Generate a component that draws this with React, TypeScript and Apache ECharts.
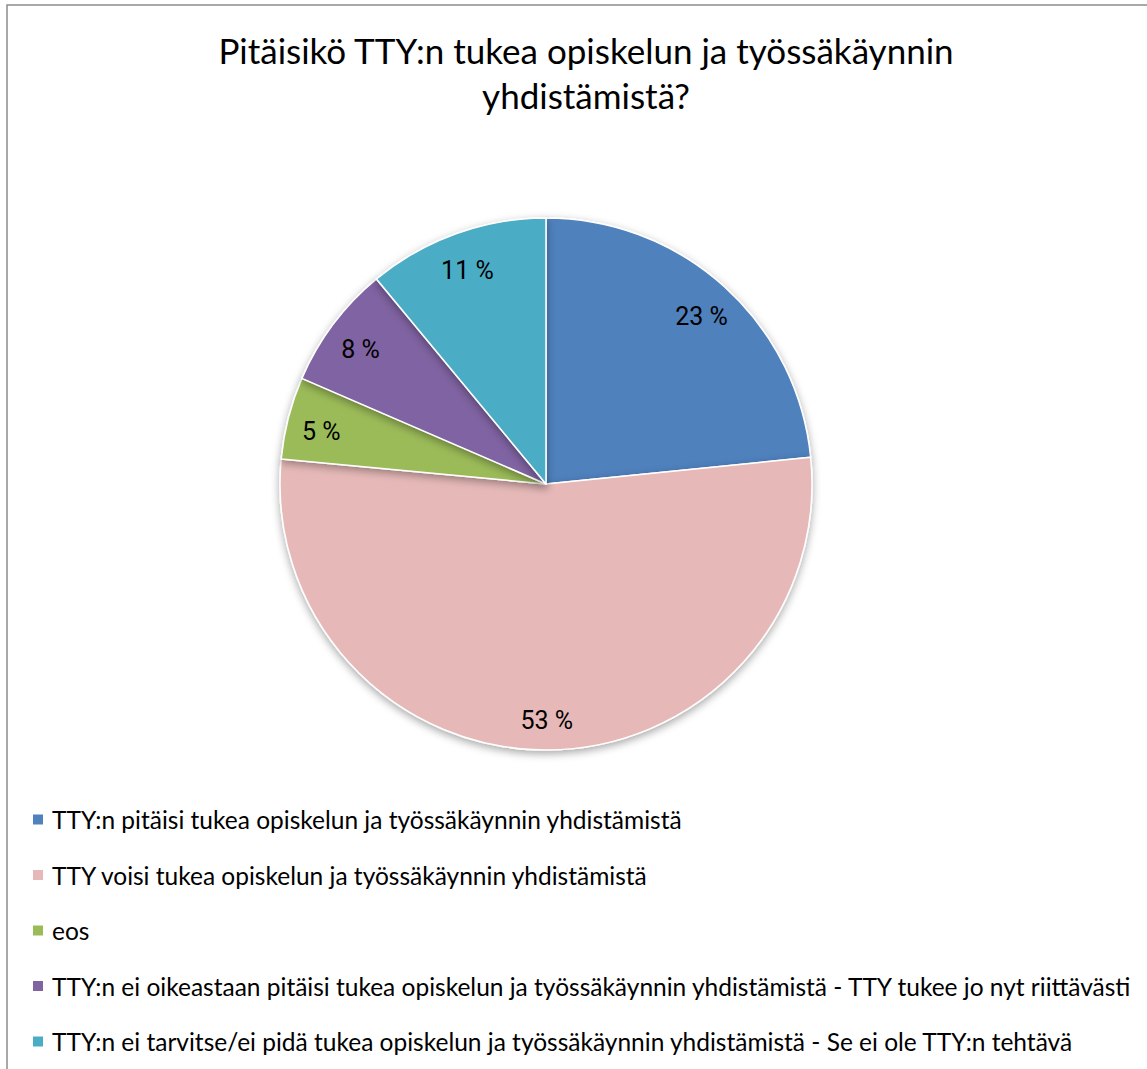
import React, { useEffect, useRef } from "react";
import * as echarts from "echarts";

const titleLines = ["Pitäisikö TTY:n tukea opiskelun ja työssäkäynnin", "yhdistämistä?"];
const categories = [
  "TTY:n pitäisi tukea opiskelun ja työssäkäynnin yhdistämistä",
  "TTY voisi tukea opiskelun ja työssäkäynnin yhdistämistä",
  "eos",
  "TTY:n ei oikeastaan pitäisi tukea opiskelun ja työssäkäynnin yhdistämistä - TTY tukee jo nyt riittävästi",
  "TTY:n ei tarvitse/ei pidä tukea opiskelun ja työssäkäynnin yhdistämistä - Se ei ole TTY:n tehtävä",
];
const values = [23.4, 53.1, 5.0, 7.5, 11.0];
const colors = ["#4F81BD", "#E6B9B8", "#9BBB59", "#8064A2", "#4BACC6"];

const FONT = "Lato";

export default function App() {
  const ref = useRef<HTMLDivElement>(null);
  useEffect(() => {
    if (!ref.current) return;
    const chart = echarts.init(ref.current, null, { renderer: "svg" });
    const data = categories.map((name, i) => ({
      name,
      value: values[i],
      itemStyle: { color: colors[i] },
    }));
    const labelData = categories.map((name, i) => ({ name, value: values[i] }));
    chart.setOption({
      animation: false,
      backgroundColor: "#ffffff",
      color: colors,
      title: {
        text: titleLines.join("\n"),
        left: 581,
        top: 22,
        textAlign: "center",
        textStyle: {
          fontFamily: FONT,
          fontSize: 35,
          fontWeight: "normal",
          color: "#000000",
          lineHeight: 45,
        },
      },
      graphic: [
        {
          type: "rect",
          shape: { x: 7, y: 5, width: 1200, height: 1200 },
          style: { fill: "none", stroke: "#8c8c8c", lineWidth: 1.5 },
          silent: true,
        },
      ],
      legend: {
        orient: "vertical",
        left: 31,
        top: 807,
        icon: "rect",
        itemWidth: 12,
        itemHeight: 12,
        itemGap: 30.5,
        padding: 0,
        data: categories,
        textStyle: {
          fontFamily: FONT,
          fontSize: 24.5,
          color: "#000000",
          padding: [0, 0, 0, 3],
        },
      },
      series: [
        {
          type: "pie",
          center: [546, 484],
          radius: 266,
          startAngle: 90,
          clockwise: true,
          data,
          label: { show: false },
          labelLine: { show: false },
          itemStyle: {
            borderColor: "#ffffff",
            borderWidth: 1.5,
            shadowBlur: 8,
            shadowColor: "rgba(0,0,0,0.35)",
            shadowOffsetY: 3,
          },
          emphasis: { disabled: true },
        },
        {
          type: "pie",
          center: [546, 484],
          radius: [200, 258],
          startAngle: 90,
          clockwise: true,
          silent: true,
          legendHoverLink: false,
          data: labelData,
          itemStyle: { color: "rgba(0,0,0,0)", borderWidth: 0 },
          label: {
            show: true,
            position: "inside",
            offset: [0, 5],
            formatter: (p: any) => `${Math.round(p.value)} %`,
            fontFamily: "Roboto",
            fontSize: 25,
            color: "#000000",
          },
          labelLine: { show: false },
          emphasis: { disabled: true },
        },
      ],
    });
    return () => chart.dispose();
  }, []);
  return (
    <div
      ref={ref}
      style={{ position: "absolute", left: 0, top: 0, width: 1147, height: 1069 }}
    />
  );
}
